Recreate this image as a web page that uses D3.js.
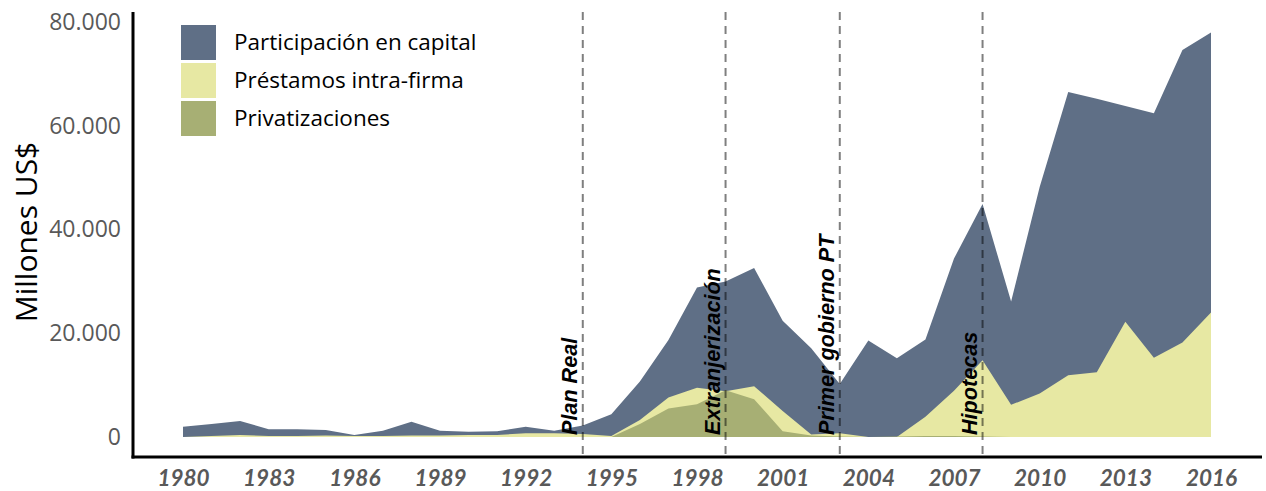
<!DOCTYPE html>
<html>
<head>
<meta charset="utf-8">
<script src="https://cdn.jsdelivr.net/npm/d3@7"></script>
<style>
  html, body { margin: 0; padding: 0; background: #ffffff; }
  svg { display: block; }
</style>
</head>
<body>
<svg id="chart" width="1266" height="491"></svg>
<script>
// ---- data (millones US$) ----
const years = d3.range(1980, 2017);
const participacion = [2000, 2500, 3100, 1500, 1500, 1350, 400, 1200, 2950, 1200, 1000, 1100, 2000, 1200, 2200,
  4400, 10700, 18700, 28800, 30000, 32600, 22400, 17100, 10200, 18600, 15200, 18800, 34400, 44900, 26100,
  48200, 66500, 65200, 63800, 62400, 74600, 78000];
const prestamos = [0, 200, 400, 200, 200, 300, 200, 200, 300, 300, 400, 400, 700, 700, 600,
  200, 3300, 7600, 9500, 8800, 9800, 5000, 500, 700, 0, 0, 3900, 8900, 14800, 6200,
  8400, 11900, 12500, 22200, 15300, 18200, 24000];
const privatizaciones = [0, 0, 0, 0, 0, 0, 0, 0, 0, 0, 0, 0, 0, 0, 0,
  0, 2500, 5500, 6300, 9000, 7300, 1100, 300, 100, 0, 100, 200, 200, 100, 0,
  0, 0, 0, 0, 0, 0, 0];
const seriesNames = ["Participación en capital", "Préstamos intra-firma", "Privatizaciones"];
const seriesColors = ["#5f6f86", "#e7e8a3", "#a7af74"];
const yTicks = [0, 20000, 40000, 60000, 80000];
const xTicks = [1980, 1983, 1986, 1989, 1992, 1995, 1998, 2001, 2004, 2007, 2010, 2013, 2016];
const events = [
  { year: 1994, label: "Plan Real" },
  { year: 1999, label: "Extranjerización" },
  { year: 2003, label: "Primer gobierno PT" },
  { year: 2008, label: "Hipotecas" }
];

// ---- layout ----
const svg = d3.select("#chart");
const x = d3.scaleLinear().domain([1980, 2016]).range([183, 1211]);
const y = d3.scaleLinear().domain([0, 80000]).range([437, 22]);
const axisX0 = 133, axisX1 = 1262, axisY = 457, axisTop = 12;

const series = [participacion, prestamos, privatizaciones];
series.forEach((vals, i) => {
  const area = d3.area()
    .x((d, j) => x(years[j]))
    .y0(y(0))
    .y1(d => y(d));
  svg.append("path")
    .datum(vals)
    .attr("d", area)
    .attr("fill", seriesColors[i]);
});

// event lines
events.forEach(ev => {
  svg.append("line")
    .attr("x1", x(ev.year)).attr("x2", x(ev.year))
    .attr("y1", axisTop).attr("y2", axisY)
    .attr("stroke", "#000").attr("stroke-opacity", 0.5)
    .attr("stroke-width", 2)
    .attr("stroke-dasharray", "8,6");
  svg.append("text")
    .attr("transform", `translate(${x(ev.year) - 6},435) rotate(-90)`)
    .attr("text-anchor", "start")
    .attr("font-family", "Liberation Sans, Arial, sans-serif")
    .attr("font-weight", "bold")
    .attr("font-style", "italic")
    .attr("font-size", 21.6)
    .attr("fill", "#000")
    .text(ev.label);
});

// y axis
svg.append("line").attr("x1", axisX0).attr("x2", axisX0).attr("y1", axisTop).attr("y2", axisY + 1.5)
  .attr("stroke", "#000").attr("stroke-width", 3);
const yAxis = d3.axisLeft(y).tickValues(yTicks).tickSize(0).tickPadding(0)
  .tickFormat(d => d3.format(",")(d).replace(/,/g, "."));
const gy = svg.append("g").attr("transform", "translate(121,0)").call(yAxis);
gy.select(".domain").remove();
gy.selectAll("text")
  .attr("font-family", "Open Sans, sans-serif")
  .attr("font-size", 23)
  .attr("fill", "#595959");

// x axis
svg.append("line").attr("x1", axisX0 - 1.5).attr("x2", axisX1).attr("y1", axisY).attr("y2", axisY)
  .attr("stroke", "#000").attr("stroke-width", 3);
const xAxis = d3.axisBottom(x).tickValues(xTicks).tickSize(0).tickPadding(0).tickFormat(d3.format("d"));
const gx = svg.append("g").attr("transform", "translate(0,470)").call(xAxis);
gx.select(".domain").remove();
gx.selectAll("text")
  .attr("font-family", "Lato, sans-serif")
  .attr("font-weight", "bold")
  .attr("font-style", "italic")
  .attr("font-size", 22.5)
  .attr("fill", "#595959");

// y title
svg.append("text")
  .attr("transform", "translate(37,232) rotate(-90)")
  .attr("text-anchor", "middle")
  .attr("font-family", "Open Sans, sans-serif")
  .attr("font-size", 30)
  .attr("fill", "#000")
  .text("Millones US$");

// legend
const lg = svg.append("g");
seriesNames.forEach((name, i) => {
  lg.append("rect").attr("x", 181).attr("y", 25 + i * 38).attr("width", 35).attr("height", 35)
    .attr("fill", seriesColors[i]);
  lg.append("text").attr("x", 234).attr("y", 42.5 + i * 38).attr("dy", "0.35em")
    .attr("font-family", "Open Sans, sans-serif")
    .attr("font-size", 22.5)
    .attr("fill", "#000")
    .text(name);
});
</script>
</body>
</html>
